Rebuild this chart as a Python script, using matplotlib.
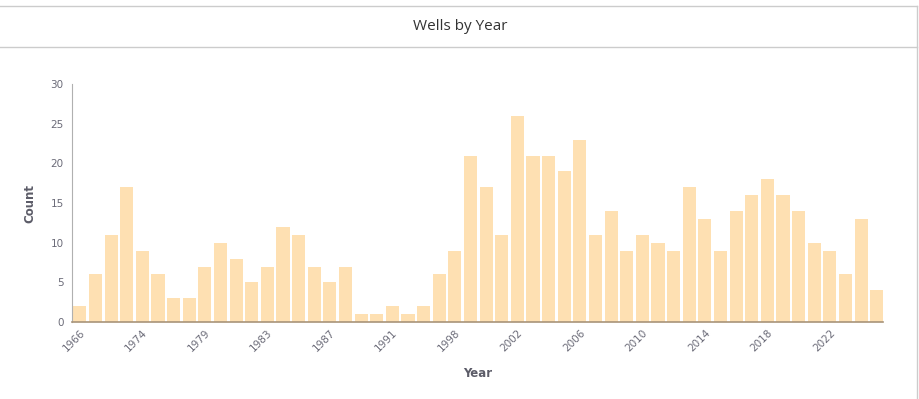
import matplotlib
matplotlib.use("Agg")
import matplotlib.pyplot as plt
from matplotlib.lines import Line2D

# ----------------------------
# data
# ----------------------------
years = [1966, 1969, 1971, 1973, 1974, 1975, 1976, 1978, 1979, 1980, 1981, 1982,
         1983, 1984, 1985, 1986, 1987, 1988, 1989, 1990, 1991, 1993, 1995, 1997,
         1998, 1999, 2000, 2001, 2002, 2003, 2004, 2005, 2006, 2007, 2008, 2009,
         2010, 2011, 2012, 2013, 2014, 2015, 2016, 2017, 2018, 2019, 2020, 2021,
         2022, 2023, 2024, 2025]
counts = [2, 6, 11, 17, 9, 6, 3, 3, 7, 10, 8, 5,
          7, 12, 11, 7, 5, 7, 1, 1, 2, 1, 2, 6,
          9, 21, 17, 11, 26, 21, 21, 19, 23, 11, 14, 9,
          11, 10, 9, 17, 13, 9, 14, 16, 18, 16, 14, 10,
          9, 6, 13, 4]
y_ticks = [0, 5, 10, 15, 20, 25, 30]

plt.rcParams['font.family'] = ['DejaVu Sans']

fig = plt.figure(figsize=(9.2, 3.99), dpi=100)
ax = fig.add_axes([0.0783, 0.193, 0.8815, 0.596])

x = list(range(len(years)))
ax.bar(x, counts, width=0.84, color="#fee0b2")

ax.set_xlim(-0.5, len(years) - 0.6)
ax.set_ylim(0, 30)
ax.set_yticks(y_ticks)
ax.set_yticklabels([str(v) for v in y_ticks], fontsize=7.5, color="#6b6b78")

tick_idx = x[::4]
ax.set_xticks(tick_idx)
ax.set_xticklabels([str(years[i]) for i in tick_idx], rotation=45, ha="right",
                   rotation_mode="anchor", fontsize=7.5, color="#6b6b78")
ax.tick_params(axis="both", length=0, pad=6)
ax.tick_params(axis="x", pad=4)

for s in ["top", "right"]:
    ax.spines[s].set_visible(False)
ax.spines["left"].set_color("#b0b0b0")
ax.spines["bottom"].set_color("#a89479")
ax.spines["bottom"].set_linewidth(1.2)

ax.set_ylabel("Count", fontsize=8.5, fontweight="bold", color="#5c5c68", labelpad=10)
ax.set_xlabel("Year", fontsize=8.5, fontweight="bold", color="#5c5c68", labelpad=10)

# panel frame + title strip
fig.add_artist(Line2D([0, 0.9967], [0.985, 0.985], color="#cccccc", lw=1))
fig.add_artist(Line2D([0, 0.9967], [0.882, 0.882], color="#cccccc", lw=1))
fig.add_artist(Line2D([0.9967, 0.9967], [0, 0.985], color="#cccccc", lw=1))
fig.text(0.5, 0.934, "Wells by Year", ha="center", va="center", fontsize=11,
         color="#333333", family=["Open Sans", "DejaVu Sans"])

fig.savefig("out.png", dpi=100)
